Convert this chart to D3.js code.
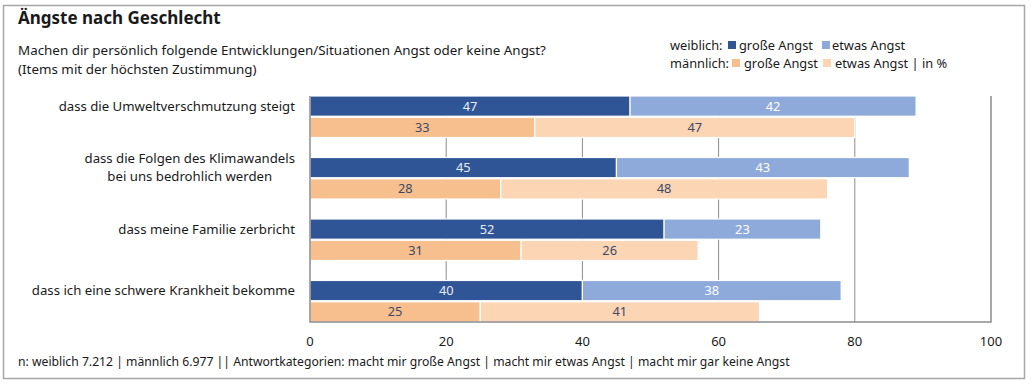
<!DOCTYPE html>
<html>
<head>
<meta charset="utf-8">
<script src="https://cdn.jsdelivr.net/npm/d3@7"></script>
<style>
  body { margin: 0; background: #fff; }
  svg text { font-family: "Noto Sans", "Open Sans", sans-serif; fill: #1a1a1a; }
</style>
</head>
<body>
<div class="chart"></div>
<script>
// data
var categories = [
  ["dass die Umweltverschmutzung steigt"],
  ["dass die Folgen des Klimawandels", "bei uns bedrohlich werden"],
  ["dass meine Familie zerbricht"],
  ["dass ich eine schwere Krankheit bekomme"]
];
var femaleGross = [47, 45, 52, 40];
var femaleEtwas = [42, 43, 23, 38];
var maleGross = [33, 28, 31, 25];
var maleEtwas = [47, 48, 26, 41];
var xTicks = [0, 20, 40, 60, 80, 100];

var colors = {
  fGross: "#2f5597", fEtwas: "#8eaadb",
  mGross: "#f8bf8e", mEtwas: "#fcd5b5"
};

var width = 1032, height = 384;
var plot = { left: 310, right: 991, top: 96, bottom: 322 };

var svg = d3.select(".chart").append("svg")
  .attr("width", width)
  .attr("height", height);

// outer frame
svg.append("rect")
  .attr("x", 3.5).attr("y", 5.5)
  .attr("width", 1021).attr("height", 373)
  .attr("fill", "none")
  .attr("stroke", "#a6a6a6")
  .attr("stroke-width", 1.5);

// titles
svg.append("text")
  .attr("x", 18).attr("y", 24)
  .style("font-size", "17px").style("font-weight", "bold")
  .text("Ängste nach Geschlecht");
svg.append("text")
  .attr("x", 18).attr("y", 55)
  .style("font-size", "13.4px")
  .text("Machen dir persönlich folgende Entwicklungen/Situationen Angst oder keine Angst?");
svg.append("text")
  .attr("x", 18).attr("y", 74)
  .style("font-size", "13.4px")
  .text("(Items mit der höchsten Zustimmung)");

// scales
var x = d3.scaleLinear().domain([0, 100]).range([plot.left, plot.right]);
var y = d3.scaleBand()
  .domain(d3.range(categories.length))
  .range([plot.top, plot.bottom])
  .paddingInner(0.325)
  .paddingOuter(0);
var sub = d3.scaleBand().domain(["f", "m"]).range([0, y.bandwidth()]).paddingInner(0.05);

// gridlines
svg.append("g").selectAll("line")
  .data(xTicks.filter(function (d) { return d > 0 && d < 100; }))
  .enter().append("line")
  .attr("x1", function (d) { return x(d); })
  .attr("x2", function (d) { return x(d); })
  .attr("y1", plot.top).attr("y2", plot.bottom)
  .attr("stroke", "#8c8c8c").attr("stroke-width", 1);

// stacked rows
var rows = [];
categories.forEach(function (c, i) {
  rows.push({ i: i, g: "f", parts: [
    { v: femaleGross[i], start: 0, fill: colors.fGross, tc: "#e8ecf4" },
    { v: femaleEtwas[i], start: femaleGross[i], fill: colors.fEtwas, tc: "#ffffff" }] });
  rows.push({ i: i, g: "m", parts: [
    { v: maleGross[i], start: 0, fill: colors.mGross, tc: "#3d4a66" },
    { v: maleEtwas[i], start: maleGross[i], fill: colors.mEtwas, tc: "#3d4a66" }] });
});

var row = svg.append("g").selectAll("g")
  .data(rows)
  .enter().append("g")
  .attr("transform", function (d) { return "translate(0," + (y(d.i) + sub(d.g)) + ")"; });

var seg = row.selectAll("g")
  .data(function (d) { return d.parts; })
  .enter().append("g");

seg.append("rect")
  .attr("x", function (d) { return x(d.start); })
  .attr("y", 0)
  .attr("width", function (d) { return x(d.start + d.v) - x(d.start); })
  .attr("height", sub.bandwidth())
  .attr("fill", function (d) { return d.fill; })
  .attr("stroke", "#fff").attr("stroke-width", 1.2);

seg.append("text")
  .attr("x", function (d) { return x(d.start + d.v / 2); })
  .attr("y", sub.bandwidth() / 2)
  .attr("dy", "0.35em")
  .attr("text-anchor", "middle")
  .style("font-size", "12.8px")
  .style("fill", function (d) { return d.tc; })
  .text(function (d) { return d.v; });

// frame of plot area (left, bottom, right)
svg.append("path")
  .attr("d", "M" + x(0) + "," + plot.top + "V" + plot.bottom + "H" + x(100) + "V" + plot.top)
  .attr("fill", "none")
  .attr("stroke", "#8c8c8c").attr("stroke-width", 1.5);

// category labels (multi-line labels centred under their first line)
svg.append("g").selectAll("g")
  .data(categories)
  .enter().append("g")
  .attr("transform", function (d, i) {
    return "translate(295," + (y(i) + sub("f") + sub.bandwidth() / 2) + ")";
  })
  .each(function (d) {
    var g = d3.select(this);
    var first = g.append("text")
      .attr("text-anchor", "end")
      .attr("y", -(d.length - 1) / 2 * 18)
      .attr("dy", "0.35em")
      .style("font-size", "13.2px")
      .text(d[0]);
    var w = first.node().getComputedTextLength();
    d.slice(1).forEach(function (t, k) {
      g.append("text")
        .attr("text-anchor", "middle")
        .attr("x", -w / 2)
        .attr("y", ((k + 1) - (d.length - 1) / 2) * 18)
        .attr("dy", "0.35em")
        .style("font-size", "13.2px")
        .text(t);
    });
  });

// x axis labels
svg.append("g").selectAll("text")
  .data(xTicks)
  .enter().append("text")
  .attr("x", function (d) { return x(d); })
  .attr("y", 341).attr("dy", "0.35em")
  .attr("text-anchor", "middle")
  .style("font-size", "13px")
  .text(function (d) { return d; });

// legend
var legend = svg.append("g").style("font-size", "12.8px");
legend.append("text").attr("x", 670).attr("y", 50).text("weiblich:");
legend.append("text").attr("x", 670).attr("y", 68).text("männlich:");
var legItems = [
  { sx: 728, tx: 739, y: 45, fill: colors.fGross, t: "große Angst" },
  { sx: 822, tx: 832, y: 45, fill: colors.fEtwas, t: "etwas Angst" },
  { sx: 732, tx: 744, y: 63, fill: colors.mGross, t: "große Angst" },
  { sx: 823, tx: 835, y: 63, fill: colors.mEtwas, t: "etwas Angst | in %" }
];
legItems.forEach(function (d) {
  legend.append("rect").attr("x", d.sx).attr("y", d.y - 4)
    .attr("width", 8).attr("height", 8).attr("fill", d.fill);
  legend.append("text").attr("x", d.tx).attr("y", d.y + 5).text(d.t);
});

// footnote
svg.append("text")
  .attr("x", 18).attr("y", 366)
  .style("font-size", "12.2px")
  .text("n: weiblich 7.212 | männlich 6.977 || Antwortkategorien: macht mir große Angst | macht mir etwas Angst | macht mir gar keine Angst");
</script>
</body>
</html>
